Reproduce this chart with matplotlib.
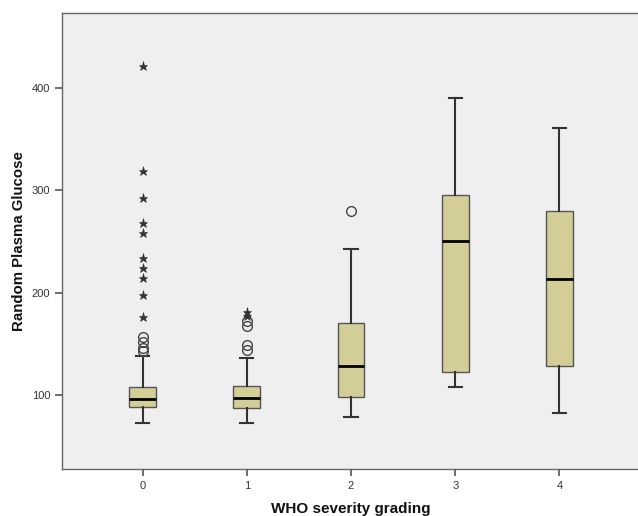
import numpy as np
import matplotlib
matplotlib.use("Agg")
import matplotlib.pyplot as plt

plt.rcParams['font.family'] = ['Liberation Sans', 'DejaVu Sans']

# WHO severity groups
groups = [0, 1, 2, 3, 4]
tick_labels = ["0", "1", "2", "3", "4"]

# box statistics
q1 = [88, 87, 98, 122, 128]
medians = [96, 97, 128, 250, 213]
q3 = [108, 109, 170, 295, 280]
whisker_lo = [73, 73, 78, 108, 82]
whisker_hi = [138, 136, 243, 390, 361]

# outliers (circles) and extremes (stars)
outliers = [
    [143, 146, 152, 157],
    [144, 149, 167, 172],
    [280],
    [],
    [],
]
extremes = [
    [176, 198, 214, 224, 234, 258, 268, 292, 319, 421],
    [177, 181],
    [],
    [],
    [],
]

stats = []
for i in range(len(groups)):
    stats.append(dict(med=medians[i], q1=q1[i], q3=q3[i],
                      whislo=whisker_lo[i], whishi=whisker_hi[i],
                      fliers=outliers[i]))

fig = plt.figure(figsize=(6.38, 5.16), dpi=100)
ax = fig.add_axes([62 / 638, 47 / 516, 578 / 638, 455.7 / 516])
ax.set_facecolor("#efefef")

edge = "#555555"
ax.bxp(stats, positions=groups, widths=0.256, patch_artist=True,
       boxprops=dict(facecolor="#d3ce98", edgecolor=edge, linewidth=1.0),
       medianprops=dict(color="black", linewidth=2.0),
       whiskerprops=dict(color="#333333", linewidth=1.5),
       capprops=dict(color="#333333", linewidth=1.5),
       capwidths=0.128,
       flierprops=dict(marker="o", markerfacecolor="none",
                       markeredgecolor="#444444", markersize=7,
                       markeredgewidth=1.0))

# extreme values drawn as stars
for g, vals in zip(groups, extremes):
    if vals:
        ax.plot([g] * len(vals), vals, linestyle="none", marker="*",
                markersize=6.5, color="#333333", markeredgewidth=0.4)

ax.set_xlim(-0.773, 4.773)
ax.set_ylim(27.7, 472.7)
ax.set_xticks(groups)
ax.set_xticklabels(tick_labels)
ax.set_yticks([100, 200, 300, 400])

for s in ax.spines.values():
    s.set_color("#666666")
    s.set_linewidth(1.0)

ax.tick_params(axis="both", colors="#555555", labelcolor="#333333",
               labelsize=8, length=5, width=1.2)

ax.set_ylabel("Random Plasma Glucose", fontsize=10.8, fontweight="bold",
              color="#111111")
ax.yaxis.set_label_coords(-0.063, 0.5)
ax.set_xlabel("WHO severity grading", fontsize=11, fontweight="bold",
              color="#111111")
ax.xaxis.set_label_coords(0.5, -0.072)

fig.savefig("out.png", dpi=100, facecolor="white")
